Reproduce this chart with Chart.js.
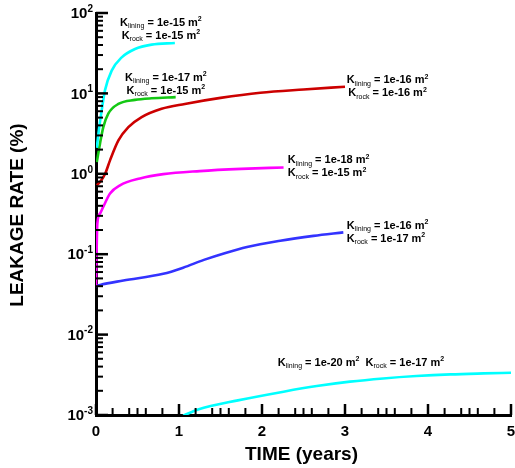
<!DOCTYPE html>
<html lang="en">
<head>
<meta charset="UTF-8">
<title>Leakage rate</title>
<script src="https://cdn.jsdelivr.net/npm/chart.js"></script>
<style>
  body { margin: 0; background: #fff; }
  canvas { display: block; }
</style>
</head>
<body>
<canvas id="chart" width="515" height="468"></canvas>
<script>
// values (time in years, leakage rate in %)
const timeA = [0.01, 0.028, 0.068, 0.108, 0.189, 0.31, 0.47, 0.67, 0.95];
const rateA = [2.1, 3.1, 6.1, 10.9, 19.2, 28.1, 35.7, 40.4, 42.4];

const timeB = [0.01, 0.048, 0.088, 0.148, 0.27, 0.47, 0.67, 0.96];
const rateB = [1.4, 2.37, 3.81, 5.6, 7.4, 8.3, 8.7, 8.98];

const timeC = [0.01, 0.06, 0.11, 0.17, 0.27, 0.39, 0.55, 0.79, 1.07, 1.5, 1.98, 2.5, 3.0];
const rateC = [0.72, 0.82, 1.0, 1.48, 2.6, 3.8, 5.07, 6.44, 7.4, 8.8, 10.2, 11.2, 12.1];

const timeD = [0, 0.016, 0.048, 0.088, 0.169, 0.289, 0.53, 0.81, 1.25, 1.75, 2.26];
const rateD = [0.04, 0.24, 0.32, 0.39, 0.57, 0.72, 0.875, 0.99, 1.08, 1.15, 1.2];

const timeE = [0, 0.05, 0.33, 0.81, 1.05, 1.3, 1.55, 1.82, 2.22, 2.62, 2.98];
const rateE = [0.04, 0.0415, 0.047, 0.057, 0.068, 0.085, 0.103, 0.123, 0.147, 0.169, 0.187];

const timeF = [1.05, 1.23, 1.71, 2.26, 2.66, 3.06, 3.46, 3.86, 4.27, 4.67, 5.0];
const rateF = [0.00098, 0.00117, 0.00152, 0.00195, 0.00229, 0.0026, 0.00285, 0.00305, 0.0032, 0.00329, 0.00335];

const xTicks = [0, 1, 2, 3, 4, 5];
const yExponents = [-3, -2, -1, 0, 1, 2];

// label texts: [subscript, value]
const labelA = [['lining', '1e-15'], ['rock', '1e-15']];
const labelB = [['lining', '1e-17'], ['rock', '1e-15']];
const labelC = [['lining', '1e-16'], ['rock', '1e-16']];
const labelD = [['lining', '1e-18'], ['rock', '1e-15']];
const labelE = [['lining', '1e-16'], ['rock', '1e-17']];
const labelF = [['lining', '1e-20'], ['rock', '1e-17']];

function pts(t, v) { return t.map((x, i) => ({ x: x, y: v[i] })); }

function series(t, v, color) {
  return {
    data: pts(t, v),
    borderColor: color,
    borderWidth: 2.6,
    pointRadius: 0,
    fill: false,
    cubicInterpolationMode: 'monotone'
  };
}

// where the labels sit (data coords of line 1, left edge)
const notes = [
  { t: 0.29, v: 75.7, align: 'center', lines: labelA },
  { t: 0.35, v: 15.7, align: 'center', lines: labelB },
  { t: 3.02, v: 14.5, align: 'center', lines: labelC },
  { t: 2.31, v: 1.47, align: 'left', lines: labelD },
  { t: 3.02, v: 0.224, align: 'left', lines: labelE },
  { t: 2.19, v: 0.0045, align: 'row', lines: labelF }
];

const F_BIG = 'bold 11px "Liberation Sans", Arial, sans-serif';
const F_SUB = '7px "Liberation Sans", Arial, sans-serif';
const F_SUP = 'bold 7px "Liberation Sans", Arial, sans-serif';

function kWidth(ctx, sub, val) {
  ctx.font = F_BIG; let w = ctx.measureText('K').width + ctx.measureText(' = ' + val + ' m').width;
  ctx.font = F_SUB; w += ctx.measureText(sub).width;
  ctx.font = F_SUP; w += ctx.measureText('2').width;
  return w;
}

function drawK(ctx, x, y, sub, val) {
  ctx.textAlign = 'left';
  ctx.textBaseline = 'middle';
  ctx.font = F_BIG; ctx.fillText('K', x, y); x += ctx.measureText('K').width;
  ctx.font = F_SUB; ctx.fillText(sub, x, y + 3.5); x += ctx.measureText(sub).width;
  ctx.font = F_BIG; const s = ' = ' + val + ' m'; ctx.fillText(s, x, y); x += ctx.measureText(s).width;
  ctx.font = F_SUP; ctx.fillText('2', x, y - 3.5); x += ctx.measureText('2').width;
  return x;
}

const decor = {
  id: 'decor',
  afterDraw(chart) {
    const { ctx, chartArea: a, scales: { x, y } } = chart;
    ctx.save();
    ctx.strokeStyle = '#000';
    ctx.fillStyle = '#000';

    // inward ticks, y axis
    for (const e of yExponents) {
      const py = y.getPixelForValue(Math.pow(10, e));
      ctx.lineWidth = 2.5;
      ctx.beginPath(); ctx.moveTo(a.left, py); ctx.lineTo(a.left + 12, py); ctx.stroke();
      if (e < 2) {
        ctx.lineWidth = 2;
        for (let m = 2; m <= 9; m++) {
          const pm = y.getPixelForValue(m * Math.pow(10, e));
          ctx.beginPath(); ctx.moveTo(a.left, pm); ctx.lineTo(a.left + 7, pm); ctx.stroke();
        }
      }
    }
    // inward ticks, x axis
    for (const t of xTicks) {
      const px = x.getPixelForValue(t);
      ctx.lineWidth = 2.5;
      ctx.beginPath(); ctx.moveTo(px, a.bottom); ctx.lineTo(px, a.bottom - 11); ctx.stroke();
      if (t < 5) {
        ctx.lineWidth = 2;
        for (const f of [0.2, 0.4, 0.5, 0.6, 0.8]) {
          const pm = x.getPixelForValue(t + f);
          ctx.beginPath(); ctx.moveTo(pm, a.bottom); ctx.lineTo(pm, a.bottom - 7); ctx.stroke();
        }
      }
    }

    // tick labels
    ctx.font = 'bold 15px "Liberation Sans", Arial, sans-serif';
    ctx.textAlign = 'center';
    ctx.textBaseline = 'middle';
    for (const t of xTicks) ctx.fillText(String(t), x.getPixelForValue(t), a.bottom + 17);

    for (const e of yExponents) {
      const py = y.getPixelForValue(Math.pow(10, e));
      const right = a.left - 3;
      ctx.font = 'bold 10px "Liberation Sans", Arial, sans-serif';
      const sup = String(e);
      const sw = ctx.measureText(sup).width;
      ctx.textAlign = 'left';
      ctx.fillText(sup, right - sw, py - 4);
      ctx.font = 'bold 15px "Liberation Sans", Arial, sans-serif';
      ctx.textAlign = 'right';
      ctx.fillText('10', right - sw, py + 1);
    }

    // axis titles
    ctx.font = 'bold 19px "Liberation Sans", Arial, sans-serif';
    ctx.textAlign = 'center';
    ctx.fillText('TIME (years)', (a.left + a.right) / 2 - 2, a.bottom + 40);
    ctx.save();
    ctx.translate(18, (a.top + a.bottom) / 2 + 1);
    ctx.rotate(-Math.PI / 2);
    ctx.fillText('LEAKAGE RATE (%)', 0, 0);
    ctx.restore();

    // curve labels
    for (const n of notes) {
      const px = x.getPixelForValue(n.t);
      const py = y.getPixelForValue(n.v);
      if (n.align === 'row') {
        let cx = drawK(ctx, px, py, n.lines[0][0], n.lines[0][1]);
        ctx.font = F_BIG; cx += ctx.measureText('  ').width;
        drawK(ctx, cx, py, n.lines[1][0], n.lines[1][1]);
        continue;
      }
      const w0 = kWidth(ctx, n.lines[0][0], n.lines[0][1]);
      n.lines.forEach((ln, i) => {
        let lx = px;
        if (n.align === 'center') lx = px + (w0 - kWidth(ctx, ln[0], ln[1])) / 2;
        drawK(ctx, lx, py + i * 13, ln[0], ln[1]);
      });
    }
    ctx.restore();
  }
};

new Chart(document.getElementById('chart'), {
  type: 'line',
  data: {
    datasets: [
      series(timeA, rateA, '#00ffff'),
      series(timeB, rateB, '#14c814'),
      series(timeC, rateC, '#cc0000'),
      series(timeD, rateD, '#ff00ff'),
      series(timeE, rateE, '#3333ff'),
      series(timeF, rateF, '#00ffff')
    ]
  },
  options: {
    responsive: false,
    animation: false,
    layout: { padding: { left: 96, right: 4, top: 13, bottom: 53 } },
    plugins: { legend: { display: false }, tooltip: { enabled: false } },
    scales: {
      x: {
        type: 'linear', min: 0, max: 5,
        ticks: { display: false },
        grid: { display: false, drawTicks: false },
        border: { display: true, color: '#000', width: 3 },
        afterFit(s) { s.height = 0; }
      },
      y: {
        type: 'logarithmic', min: 0.001, max: 100,
        ticks: { display: false },
        grid: { display: false, drawTicks: false },
        border: { display: true, color: '#000', width: 3 },
        afterFit(s) { s.width = 0; }
      }
    }
  },
  plugins: [decor]
});
</script>
</body>
</html>
